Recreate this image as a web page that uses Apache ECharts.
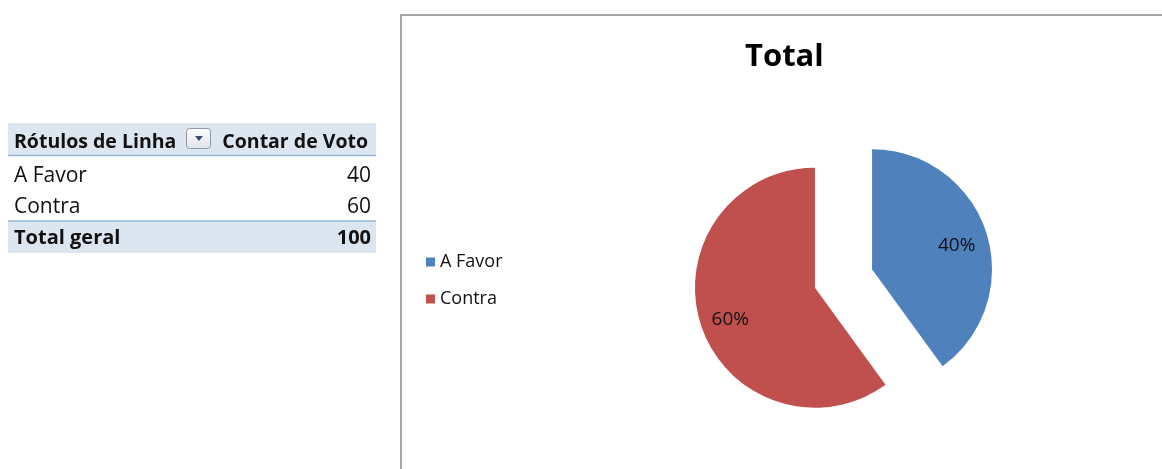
<!DOCTYPE html>
<html>
<head>
<meta charset="utf-8">
<title>Total</title>
<script src="https://cdn.jsdelivr.net/npm/echarts@6/dist/echarts.min.js"></script>
<style>
  html, body { margin: 0; padding: 0; background: #fff; }
  #main { width: 1162px; height: 469px; }
</style>
</head>
<body>
<div id="main"></div>
<script>
const categories = ['A Favor', 'Contra']
const votes = [40, 60]
const headerLabels = ['Rótulos de Linha', 'Contar de Voto']
const totalLabel = 'Total geral'
const chartTitle = 'Total'
const colors = ['#4F81BD', '#C0504D']

const font = '"Open Sans", "Noto Sans", sans-serif'
const total = votes.reduce((a, b) => a + b, 0)

// pie slices sit further out than echarts' default inside position
const startAngle = 90
const labelPush = 26
const labelShift = []
let acc = 0
votes.forEach(v => {
  const mid = (startAngle - (acc + v / 2) / total * 360) * Math.PI / 180
  labelShift.push({ dx: labelPush * Math.cos(mid), dy: -labelPush * Math.sin(mid) + 4 })
  acc += v
})

// pivot table on the left
const tableLeft = 8
const tableRight = 376
const rowY = [176, 207]
const tableGraphics = [
  { type: 'rect', shape: { x: tableLeft, y: 123, width: tableRight - tableLeft, height: 32 }, style: { fill: '#DCE6F1' } },
  { type: 'line', shape: { x1: tableLeft, y1: 155.5, x2: tableRight, y2: 155.5 }, style: { stroke: '#95B3D7', lineWidth: 1.5 } },
  { type: 'rect', shape: { x: tableLeft, y: 221, width: tableRight - tableLeft, height: 32 }, style: { fill: '#DCE6F1' } },
  { type: 'line', shape: { x1: tableLeft, y1: 221, x2: tableRight, y2: 221 }, style: { stroke: '#95B3D7', lineWidth: 1.5 } },
  {
    type: 'text', x: 14, y: 142,
    style: { text: headerLabels[0], font: 'bold 19.5px ' + font, fill: '#111', verticalAlign: 'middle' }
  },
  {
    type: 'rect', shape: { x: 186.5, y: 128.5, width: 24, height: 20, r: 3 },
    style: {
      fill: new echarts.graphic.LinearGradient(0, 0, 0, 1, [
        { offset: 0, color: '#ffffff' }, { offset: 1, color: '#dfe3ea' }
      ]),
      stroke: '#8e96a8', lineWidth: 1
    }
  },
  { type: 'polygon', shape: { points: [[195, 136], [203, 136], [199, 141]] }, style: { fill: '#3c4a6b' } },
  {
    type: 'text', x: 368, y: 142,
    style: { text: headerLabels[1], font: 'bold 19.5px ' + font, fill: '#111', align: 'right', verticalAlign: 'middle' }
  },
  {
    type: 'text', x: 14, y: 238,
    style: { text: totalLabel, font: 'bold 20px ' + font, fill: '#111', verticalAlign: 'middle' }
  },
  {
    type: 'text', x: 371, y: 238,
    style: { text: String(total), font: 'bold 20px ' + font, fill: '#111', align: 'right', verticalAlign: 'middle' }
  }
]
categories.forEach((name, i) => {
  tableGraphics.push({
    type: 'text', x: 14, y: rowY[i],
    style: { text: name, font: '21px ' + font, fill: '#111', verticalAlign: 'middle' }
  })
  tableGraphics.push({
    type: 'text', x: 371, y: rowY[i],
    style: { text: String(votes[i]), font: '21px ' + font, fill: '#111', align: 'right', verticalAlign: 'middle' }
  })
})

// chart frame
tableGraphics.push({
  type: 'polyline',
  shape: { points: [[401, 469], [401, 15], [1162, 15]] },
  style: { stroke: '#a6a6a6', lineWidth: 2, fill: null }
})

const chart = echarts.init(document.getElementById('main'))
chart.setOption({
  backgroundColor: '#fff',
  animation: false,
  color: colors,
  title: {
    text: chartTitle,
    left: 740,
    top: 37,
    textStyle: { fontFamily: font, fontSize: 31, fontWeight: 'bold', color: '#000' }
  },
  legend: {
    orient: 'vertical',
    left: 421,
    top: 248,
    itemWidth: 9,
    itemHeight: 9,
    itemGap: 19,
    icon: 'rect',
    selectedMode: false,
    textStyle: { fontFamily: font, fontSize: 18, color: '#111' },
    data: categories
  },
  graphic: tableGraphics,
  series: [
    {
      type: 'pie',
      center: [843.5, 278.5],
      radius: 120,
      startAngle: startAngle,
      clockwise: true,
      selectedMode: 'multiple',
      selectedOffset: 30,
      silent: true,
      label: {
        position: 'inside',
        formatter: '{d}%',
        fontFamily: font,
        fontSize: 19,
        color: '#111'
      },
      labelLayout: params => labelShift[params.dataIndex],
      emphasis: { disabled: true },
      data: categories.map((name, i) => ({ name: name, value: votes[i], selected: true }))
    }
  ]
})
</script>
</body>
</html>
